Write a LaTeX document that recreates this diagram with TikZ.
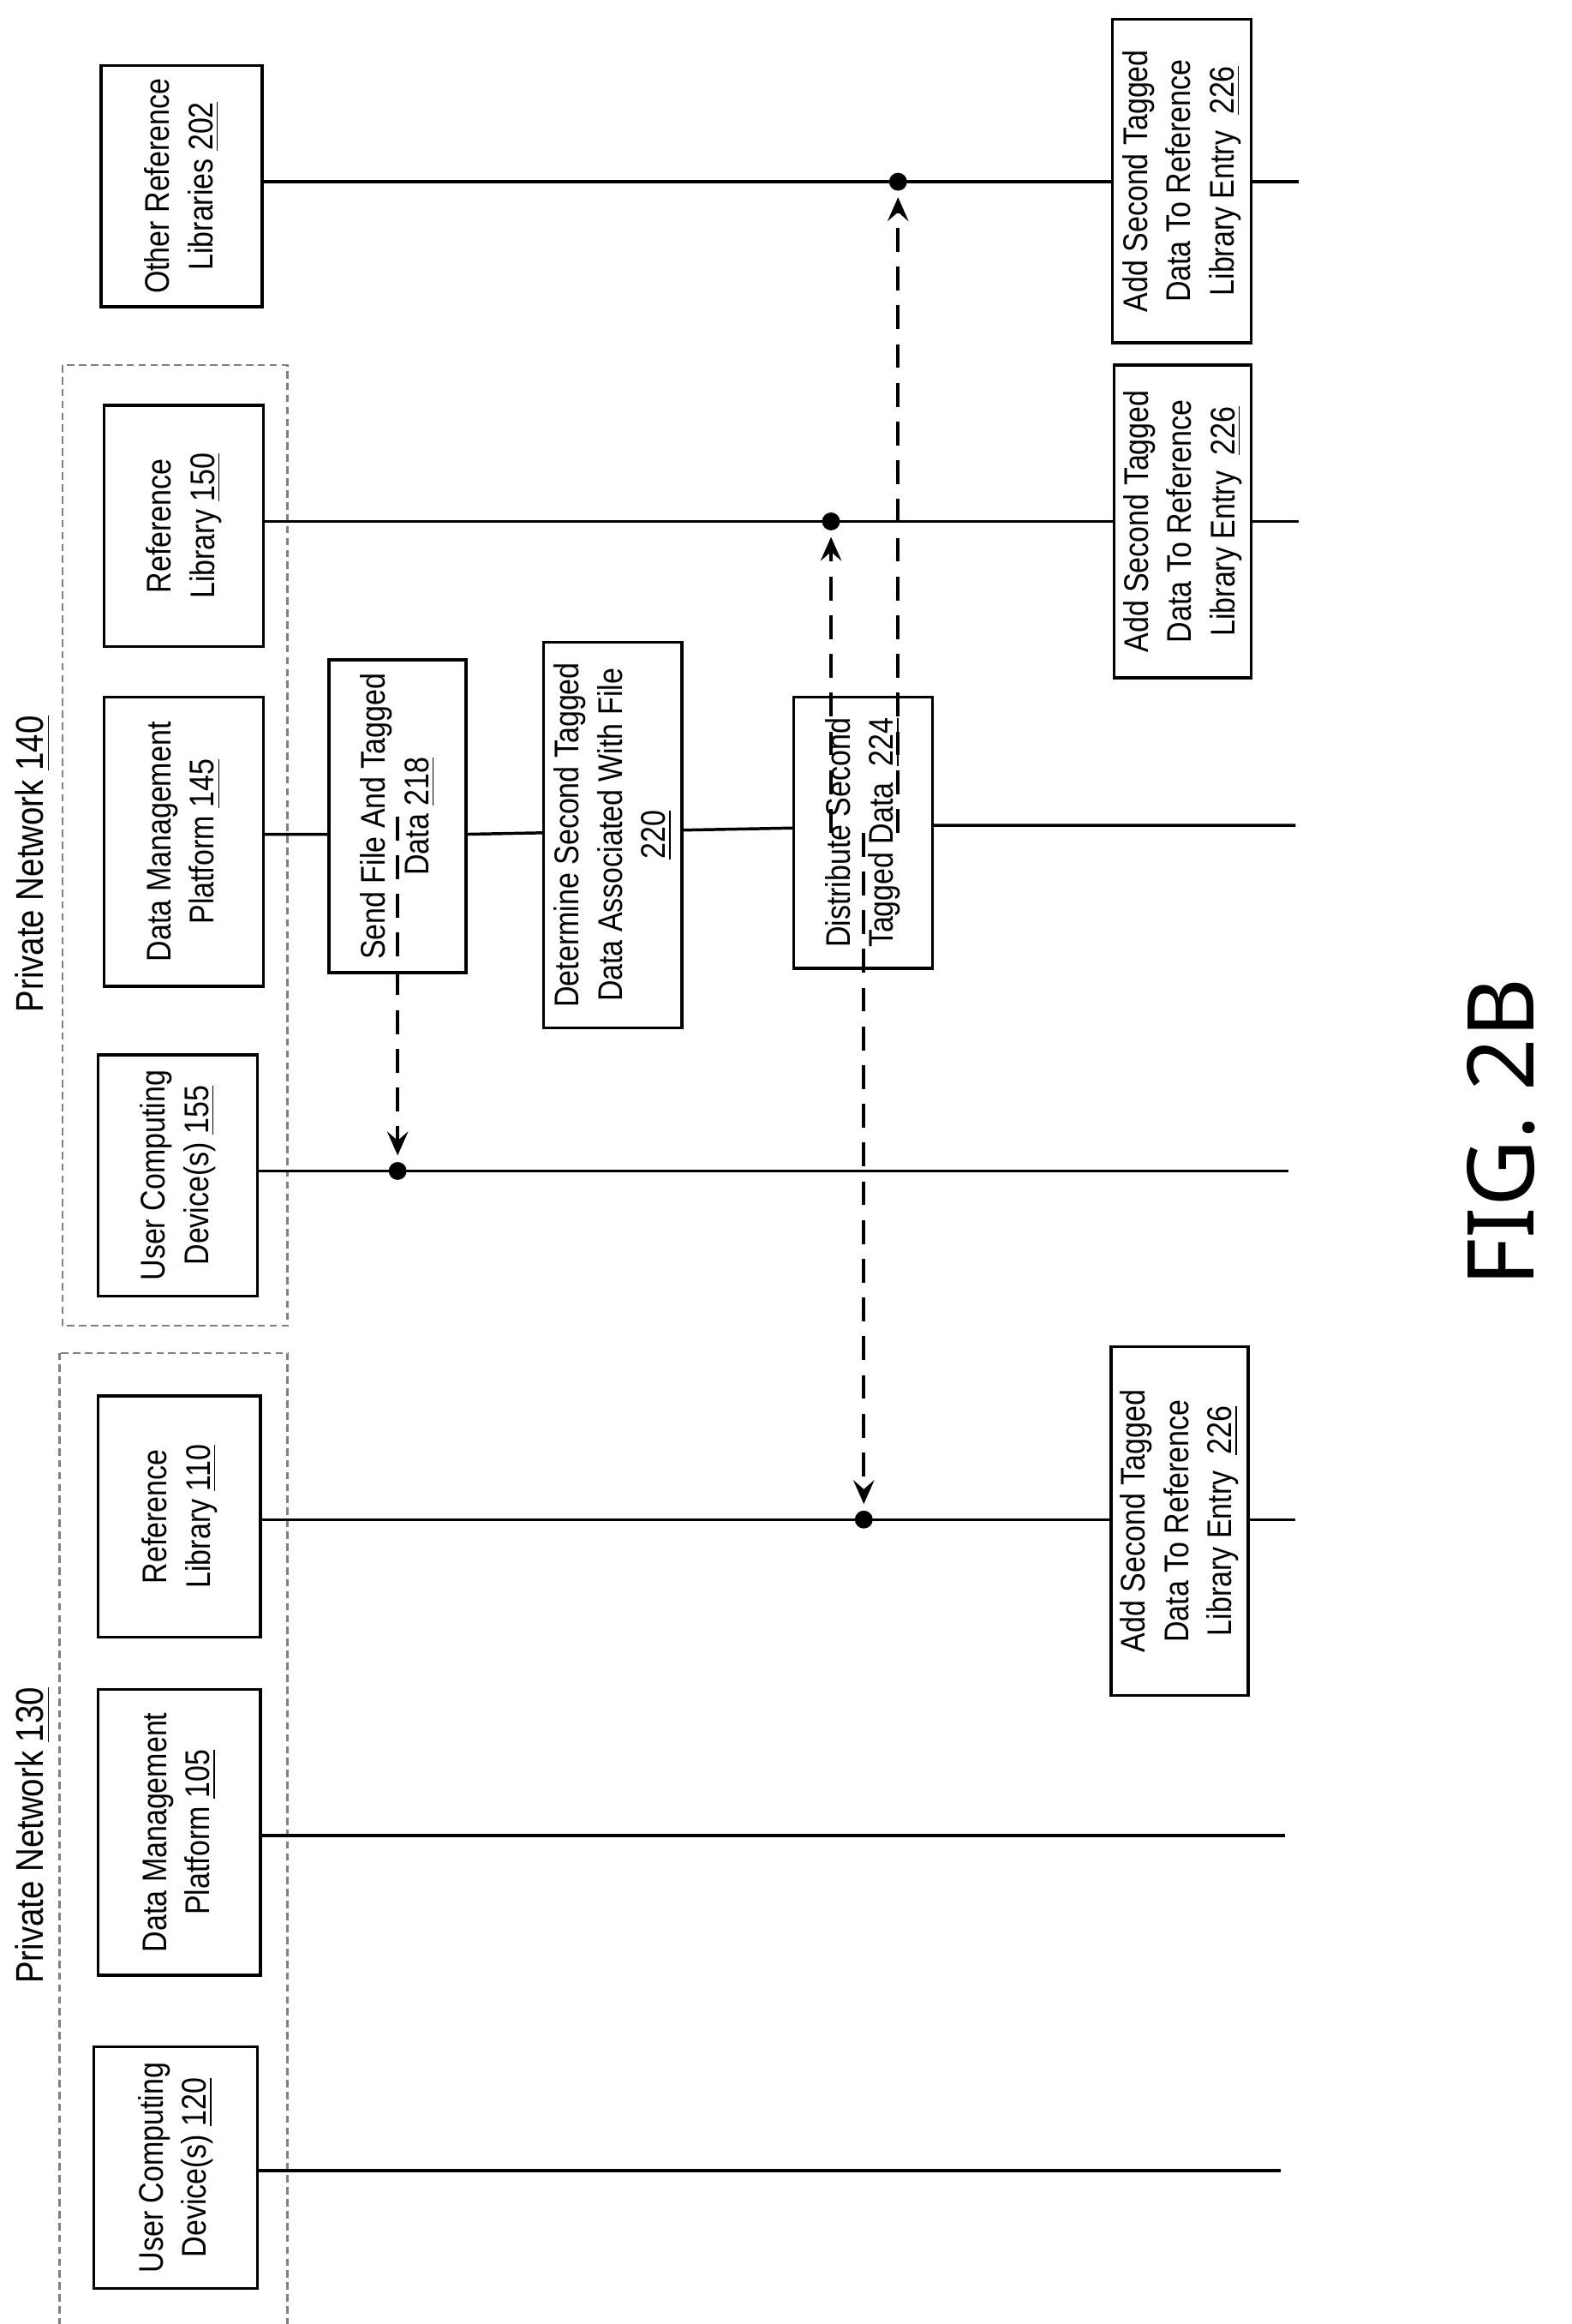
\documentclass[tikz,border=0pt]{standalone}
\usepackage{fontspec}
\setmainfont{Liberation Sans}[FakeStretch=0.85]
\newfontfamily\figfont{Noto Sans}
\usetikzlibrary{arrows.meta}
\begin{document}
\begin{tikzpicture}[x=0.5pt,y=-0.5pt,
  box/.style n args={2}{draw,line width=1pt,fill=white,rotate=90,inner sep=0pt,align=center,
    minimum width=#1*0.5pt,minimum height=#2*0.5pt,font=\fontsize{11.5}{14.5}\selectfont},
  life/.style={line width=1pt},
  net/.style={draw=gray,line width=0.6pt,dash pattern=on 2.5pt off 1.5pt},
  msg/.style={line width=1.2pt,dash pattern=on 8pt off 5pt,-{Stealth[length=8pt,width=7pt,inset=3pt]},shorten >=2pt},
  dot/.style={circle,fill=black,inner sep=0pt,minimum size=6pt}]
\useasboundingbox (0,0) rectangle (1055,1560);
% network frames
\draw[net] (42,245) rectangle (193,890);
\draw[net] (40,908) rectangle (193,1582);
\node[rotate=90,font=\fontsize{13}{15}\selectfont] (pn140) at (22,580) {Private Network \underline{140}};
\node[rotate=90,font=\fontsize{13}{15}\selectfont] (pn130) at (22,1232) {Private Network \underline{130}};
% lifelines (drawn first)
\coordinate (e202) at (872,122);
\coordinate (e150) at (872,350);
\coordinate (e145) at (870,554);
\coordinate (e155) at (865,786);
\coordinate (e110) at (870,1020);
\coordinate (e105) at (863,1232);
\coordinate (e120) at (860,1457);
\draw[life] (176,122) -- (e202);
\draw[life] (177,350) -- (e150);
\draw[life] (177,560) -- (313,560) (313,560) -- (626,554) -- (e145);
\draw[life] (173,786) -- (e155);
\draw[life] (175,1020) -- (e110);
\draw[life] (175,1232) -- (e105);
\draw[life] (173,1457) -- (e120);
% header boxes
\node[box={162}{108}] (o202) at (122,125) {Other Reference\\Libraries \underline{202}};
\node[box={162}{107}] (r150) at (123.5,353) {Reference\\Library \underline{150}};
\node[box={194}{107}] (d145) at (123.5,565) {Data Management\\Platform \underline{145}};
\node[box={162}{107}] (u155) at (119.5,789) {User Computing\\Device(s) \underline{155}};
\node[box={162}{109}] (r110) at (120.5,1018) {Reference\\Library \underline{110}};
\node[box={192}{109}] (d105) at (120.5,1230) {Data Management\\Platform \underline{105}};
\node[box={162}{110}] (u120) at (118,1455) {User Computing\\Device(s) \underline{120}};
% process boxes
\node[box={210}{92}] (s218) at (267,548) {Send File And Tagged\\Data \underline{218}};
\node[box={259}{93}] (d220) at (411.5,560.5) {Determine Second Tagged\\Data Associated With File\\\underline{220}};
\node[box={182}{93}] (s224) at (579.5,559) {Distribute Second\\Tagged Data \ \underline{224}};
\node[box={217}{93}] (a1) at (793.5,121.5) {Add Second Tagged\\Data To Reference\\Library Entry \ \underline{226}};
\node[box={210}{92}] (a2) at (794,350) {Add Second Tagged\\Data To Reference\\Library Entry \ \underline{226}};
\node[box={234}{92}] (a3) at (792,1021) {Add Second Tagged\\Data To Reference\\Library Entry \ \underline{226}};
% dots
\node[dot] (p1) at (267,786) {};
\node[dot] (p2) at (558,350) {};
\node[dot] (p3) at (603,122) {};
\node[dot] (p4) at (580,1020) {};
% messages
\draw[msg] (s218.south -| p1) -- (p1);
\draw[msg] (s224.north -| p2) -- (p2);
\draw[msg] (s224.north -| p3) -- (p3);
\draw[msg] (s224.south -| p4) -- (p4);
\node[rotate=90,font=\figfont\bfseries\fontsize{31}{35}\selectfont] (fig) at (1008,760) {FIG. 2B};
\end{tikzpicture}
\end{document}
